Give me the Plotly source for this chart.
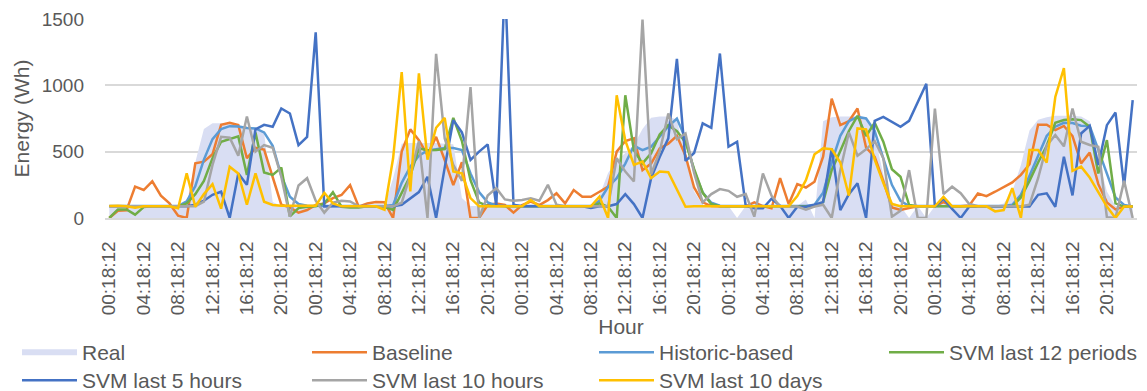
import pandas as pd
import plotly.graph_objects as go

# Hourly timestamps over five days
hours = pd.date_range("2018-03-05 00:18:12", periods=120, freq="h")

real = [88, 90, 92, 90, 88, 90, 92, 90, 95, 110,
        420, 670, 715, 715, 710, 700, 690, 680, 640, 120,
        90, 90, 88, 90, 90, 90, 90, 90, 90, 90,
        90, 90, 90, 300, 560, 565, 565, 565, 565, 560,
        555, 150, 90, 90, 90, 90, 90, 90, 90, 90,
        90, 90, 90, 90, 90, 90, 100, 170, 340, 430,
        490, 550, 670, 755, 765, 765, 740, 450, 200, 100,
        90, 90, 90, 0, 90, 90, 90, 90, 90, 90,
        90, 140, 0, 730, 760, 765, 765, 765, 760, 620,
        330, 120, 90, 0, 90, 0, 90, 90, 90, 90,
        90, 90, 90, 90, 110, 200, 400, 660, 740, 760,
        770, 770, 770, 765, 730, 450, 200, 90, 90, 90]

baseline = [0, 55, 58, 236, 211, 277, 168, 110, 18, 0,
            412, 425, 480, 703, 718, 700, 450, 528, 516, 311,
            100, 80, 40, 60, 98, 110, 150, 173, 248, 85,
            110, 120, 118, 0, 500, 668, 587, 474, 612, 437,
            248, 420, 0, 0, 98, 110, 98, 40, 98, 123,
            98, 135, 186, 110, 211, 160, 160, 198, 236, 500,
            580, 600, 360, 410, 525, 560, 620, 470, 230, 118,
            90, 88, 88, 88, 88, 118, 90, 73, 300, 105,
            255, 230, 273, 462, 900, 700, 730, 825, 530, 460,
            280, 80, 60, 75, 88, 88, 88, 120, 88, 88,
            95, 185, 165, 198, 230, 268, 325, 405, 703, 703,
            662, 694, 618, 411, 493, 255, 118, 65, 86, 86]

historic = [90, 90, 90, 90, 90, 90, 90, 90, 90, 125,
            240, 440, 595, 670, 692, 690, 678, 675, 645, 545,
            320, 160, 105, 92, 90, 90, 90, 90, 90, 90,
            90, 90, 90, 98, 265, 386, 470, 510, 520, 528,
            528, 512, 336, 195, 118, 95, 90, 90, 90, 90,
            90, 90, 90, 90, 90, 90, 90, 130, 235, 300,
            410, 545, 512, 537, 612, 690, 750, 600, 355, 192,
            115, 92, 90, 90, 90, 90, 90, 90, 90, 90,
            90, 90, 100, 190, 420, 620, 730, 762, 750, 655,
            450, 250, 130, 90, 90, 90, 90, 90, 90, 90,
            90, 90, 90, 90, 90, 100, 175, 318, 475, 618,
            688, 718, 716, 695, 694, 512, 330, 155, 99, 86]

svm_12_periods = [0, 65, 65, 25, 82, 88, 88, 88, 88, 110,
                  180, 280, 450, 575, 595, 615, 325, 645, 343, 325,
                  380, 12, 75, 85, 88, 110, 195, 85, 80, 80,
                  88, 85, 85, 60, 185, 318, 525, 510, 512, 520,
                  755, 580, 285, 118, 90, 88, 88, 88, 88, 88,
                  88, 88, 88, 88, 88, 88, 88, 110, 85, 0,
                  925, 510, 412, 487, 630, 700, 655, 570, 370, 190,
                  105, 88, 88, 88, 88, 88, 88, 88, 88, 88,
                  88, 88, 88, 120, 360, 505, 656, 770, 618, 718,
                  575, 368, 311, 98, 88, 88, 88, 88, 88, 88,
                  88, 88, 88, 88, 88, 88, 155, 280, 418, 545,
                  718, 738, 744, 738, 688, 336, 587, 110, 86, 86]

svm_5_hours = [88, 88, 88, 88, 88, 88, 88, 88, 88, 88,
               100, 130, 175, 198, 0, 336, 250, 668, 702, 688,
               826, 788, 550, 612, 1400, 87, 88, 88, 88, 88,
               88, 88, 88, 88, 100, 150, 195, 311, 0, 380,
               738, 645, 437, 500, 555, 90, 1800, 100, 88, 88,
               88, 88, 88, 88, 88, 88, 75, 88, 88, 105,
               180, 105, 0, 300, 460, 600, 1200, 430, 490, 713,
               680, 1240, 537, 575, 92, 73, 73, 145, 92, 0,
               85, 85, 100, 120, 525, 60, 180, 262, 0, 732,
               762, 725, 688, 732, 870, 1012, 86, 145, 68, 0,
               86, 86, 86, 86, 86, 86, 86, 86, 175, 186,
               85, 462, 170, 637, 695, 400, 700, 795, 240, 888]

svm_10_hours = [88, 88, 88, 88, 88, 88, 88, 88, 88, 88,
                88, 123, 400, 612, 605, 470, 765, 500, 550, 530,
                311, 10, 245, 300, 130, 40, 115, 130, 125, 88,
                88, 88, 88, 88, 115, 324, 580, 0, 1237, 600,
                400, 280, 987, 0, 170, 225, 140, 130, 135, 148,
                130, 250, 100, 88, 88, 88, 88, 88, 88, 450,
                350, 275, 1495, 330, 500, 788, 595, 637, 340, 118,
                180, 218, 205, 160, 180, 10, 336, 168, 86, 86,
                86, 62, 86, 100, 0, 360, 645, 470, 518, 580,
                450, 10, 55, 361, 0, 0, 825, 180, 236, 187,
                105, 88, 88, 88, 88, 88, 88, 100, 300, 545,
                625, 540, 825, 575, 550, 537, 5, 0, 280, 0]

svm_10_days = [90, 92, 88, 78, 88, 88, 88, 88, 73, 336,
               85, 180, 255, 70, 387, 336, 100, 336, 123, 98,
               92, 92, 92, 92, 92, 190, 110, 88, 88, 88,
               88, 88, 62, 450, 1100, 200, 1090, 440, 680, 755,
               350, 336, 150, 88, 88, 88, 88, 88, 88, 135,
               88, 88, 88, 88, 88, 88, 88, 162, 0, 925,
               585, 400, 425, 300, 350, 345, 210, 85, 88, 88,
               88, 88, 88, 88, 88, 88, 88, 88, 88, 88,
               165, 285, 480, 525, 518, 418, 168, 675, 668, 440,
               265, 105, 88, 88, 88, 88, 88, 160, 88, 88,
               88, 88, 88, 50, 60, 225, 0, 512, 512, 418,
               912, 1130, 355, 387, 305, 195, 86, 0, 86, 86]

series = [
    ("Baseline", baseline, "#ED7D31"),
    ("Historic-based", historic, "#5B9BD5"),
    ("SVM last 12 periods", svm_12_periods, "#70AD47"),
    ("SVM last 5 hours", svm_5_hours, "#4472C4"),
    ("SVM last 10 hours", svm_10_hours, "#A5A5A5"),
    ("SVM last 10 days", svm_10_days, "#FFC000"),
]

FONT = "Liberation Sans, Arial, sans-serif"
GRID = "#D9D9D9"
TEXT = "#595959"

W, H = 1147, 391
M_L, M_R, M_T, M_B = 105, 10, 19, 173
PLOT_W = W - M_L - M_R
PLOT_H = H - M_T - M_B

# Legend grid: four columns, two rows; each entry gets its own legend box
col_left = [17, 307, 594, 884]
row_top = [332, 360]
names = ["Real"] + [s[0] for s in series]
slots = {}
legend_layout = {}
for k, name in enumerate(names):
    row, col = divmod(k, 4)
    key = "legend" if k == 0 else f"legend{k + 1}"
    slots[name] = key
    px, py = col_left[col], row_top[row]
    legend_layout[key] = dict(
        orientation="v", xanchor="left", yanchor="top",
        x=(px - M_L) / PLOT_W, y=(H - M_B - py) / PLOT_H,
        font=dict(family=FONT, size=21, color=TEXT),
        itemwidth=55, bgcolor="rgba(0,0,0,0)", borderwidth=0,
    )

fig = go.Figure()
fig.add_trace(go.Scatter(
    x=hours, y=real, name="Real", mode="none",
    fill="tozeroy", fillcolor="#D9DEF3", legend=slots["Real"],
))
for name, values, color in series:
    fig.add_trace(go.Scatter(
        x=hours, y=values, name=name, mode="lines",
        line=dict(color=color, width=2.5), legend=slots[name],
    ))

half_hour = pd.Timedelta(minutes=30)
fig.update_layout(
    width=W, height=H,
    margin=dict(l=M_L, r=M_R, t=M_T, b=M_B, autoexpand=False),
    paper_bgcolor="white", plot_bgcolor="white",
    font=dict(family=FONT, color=TEXT, size=19),
    showlegend=True,
    **legend_layout,
)
fig.update_xaxes(
    range=[hours[0] - half_hour, hours[-1] + half_hour],
    tickmode="linear", tick0=hours[0], dtick=4 * 3600 * 1000,
    tickformat="%H:%M:%S", tickangle=-90,
    tickfont=dict(size=19, color=TEXT),
    ticklabelstandoff=14, automargin=False,
    showgrid=False, showline=True, linecolor=GRID, linewidth=1.5,
    ticks="",
    title=dict(text="Hour", font=dict(size=21, color=TEXT), standoff=4),
)
fig.update_yaxes(
    range=[0, 1500], dtick=500, tick0=0,
    showgrid=True, gridcolor=GRID, gridwidth=1.5,
    zeroline=False, showline=False, ticks="",
    tickfont=dict(size=19, color=TEXT),
    ticklabelstandoff=20, automargin=False,
    title=dict(text="Energy (Wh)", font=dict(size=21, color=TEXT), standoff=6),
)

fig.write_html("out.html")
